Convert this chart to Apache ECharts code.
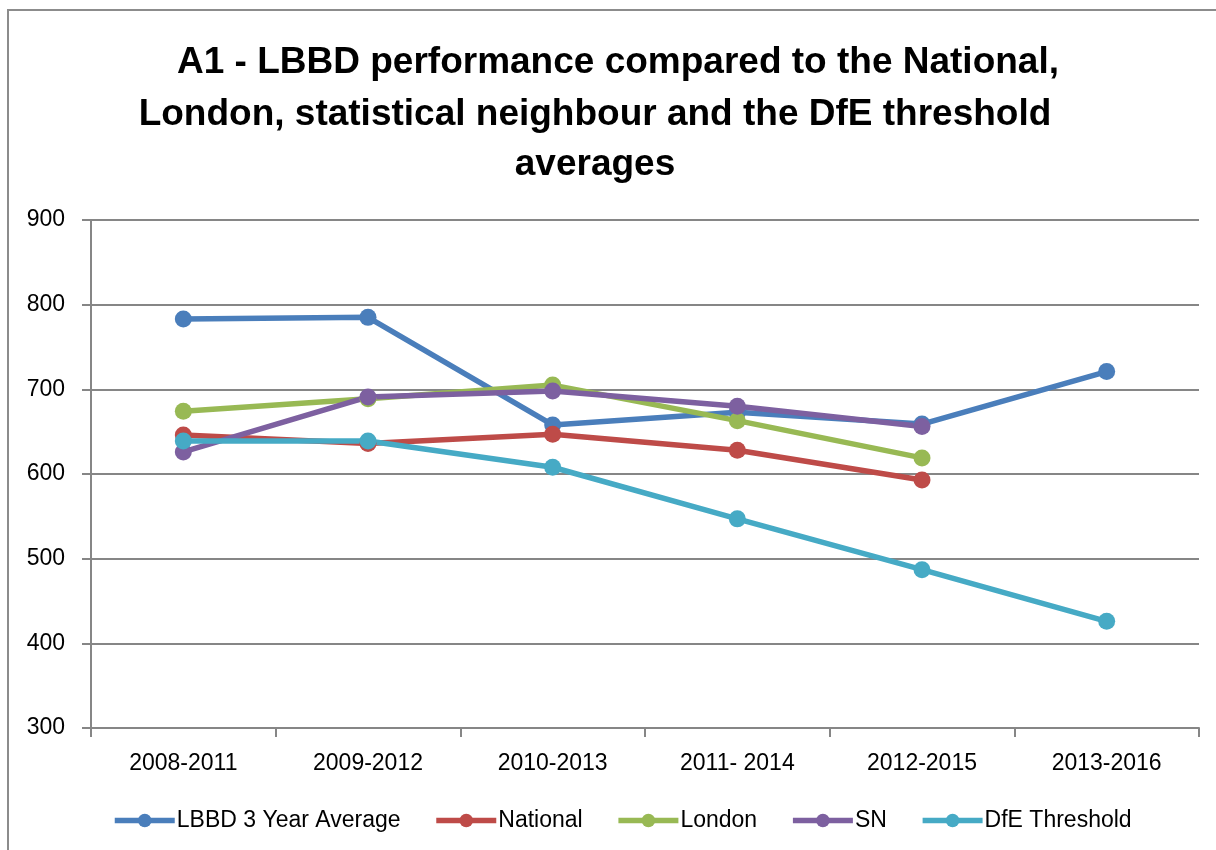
<!DOCTYPE html>
<html>
<head>
<meta charset="utf-8">
<script src="https://cdn.jsdelivr.net/npm/echarts@6/dist/echarts.min.js"></script>
<style>
  html, body { margin: 0; padding: 0; background: #fff; }
  #chart { width: 1216px; height: 850px; }
</style>
</head>
<body>
<div id="chart"></div>
<script>
// categories and series values
const periods = ['2008-2011', '2009-2012', '2010-2013', '2011- 2014', '2012-2015', '2013-2016'];
const lbbd = [783, 785, 658, 673, 659, 721];
const national = [646, 636, 647, 628, 593, null];
const london = [674, 689, 705, 663, 619, null];
const sn = [626, 691, 698, 680, 656, null];
const dfe = [639, 639, 608, 547, 487, 426];
const yTicks = { min: 300, max: 900, step: 100 };

const titleLines = [
  'A1 - LBBD performance compared to the National,',
  'London, statistical neighbour and the DfE threshold',
  'averages',
];

const font = '"Liberation Sans", Arial, sans-serif';

// one line series
const makeLine = (name, data, color) => ({
  name,
  type: 'line',
  data,
  symbol: 'circle',
  symbolSize: 17,
  lineStyle: { width: 5.5, color },
  itemStyle: { color },
  connectNulls: false,
  animation: false,
});

const chart = echarts.init(document.getElementById('chart'));

chart.setOption({
  backgroundColor: '#fff',
  animation: false,
  graphic: [
    {
      type: 'rect',
      shape: { x: 8, y: 10, width: 1230, height: 880 },
      style: { fill: 'none', stroke: '#8c8c8c', lineWidth: 2 },
      silent: true,
    },
  ],
  title: [
    { left: 618, top: 38, line: 0 },
    { left: 595, top: 90, line: 1 },
    { left: 595, top: 140, line: 2 },
  ].map((t) => ({
    text: titleLines[t.line],
    left: t.left,
    top: t.top,
    textAlign: 'center',
    padding: 0,
    textStyle: {
      fontFamily: font,
      fontWeight: 'bold',
      fontSize: 37,
      color: '#000',
      lineHeight: 50,
    },
  })),
  grid: {
    left: 91,
    right: 17,
    top: 220,
    bottom: 122,
    containLabel: false,
  },
  legend: {
    bottom: 18,
    left: 112,
    padding: 0,
    itemWidth: 60,
    itemHeight: 17,
    itemGap: 33,
    lineStyle: { width: 5.5 },
    textStyle: { fontFamily: font, fontSize: 23, color: '#000', padding: [0, 0, 0, -3] },
    data: ['LBBD 3 Year Average', 'National', 'London', 'SN', 'DfE Threshold'],
  },
  xAxis: {
    type: 'category',
    data: periods,
    boundaryGap: true,
    axisLine: { lineStyle: { color: '#868686', width: 2 } },
    axisTick: { show: true, length: 9, lineStyle: { color: '#868686', width: 2 } },
    axisLabel: {
      fontFamily: font,
      fontSize: 23,
      color: '#000',
      margin: 24,
      interval: 0,
    },
  },
  yAxis: {
    type: 'value',
    min: yTicks.min,
    max: yTicks.max,
    interval: yTicks.step,
    axisLine: { show: true, lineStyle: { color: '#868686', width: 2 } },
    axisTick: { show: true, length: 9, lineStyle: { color: '#868686', width: 2 } },
    splitLine: { lineStyle: { color: '#868686', width: 2 } },
    axisLabel: {
      fontFamily: font,
      fontSize: 23,
      color: '#000',
      margin: 26,
    },
  },
  series: [
    makeLine('LBBD 3 Year Average', lbbd, '#4a7ebb'),
    makeLine('National', national, '#be4b48'),
    makeLine('London', london, '#98b954'),
    makeLine('SN', sn, '#7d60a0'),
    makeLine('DfE Threshold', dfe, '#46aac5'),
  ],
});
</script>
</body>
</html>
